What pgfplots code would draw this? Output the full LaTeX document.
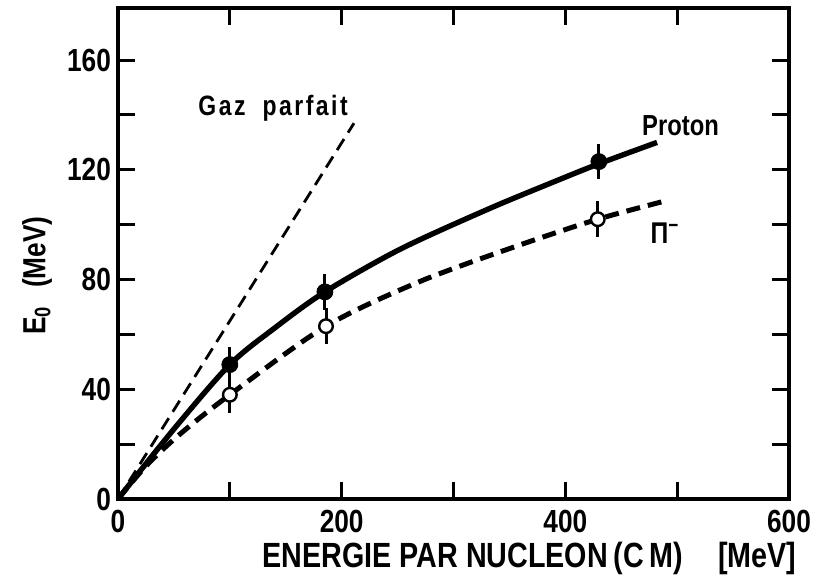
\documentclass[border=0pt]{standalone}
\usepackage{fontspec}
\setmainfont{Liberation Sans}[FakeStretch=0.82]
\newfontfamily\lblfont{Liberation Sans}[FakeStretch=0.82, LetterSpace=9]
\usepackage{pgfplots}
\pgfplotsset{compat=1.18}
\begin{document}
\begin{tikzpicture}
\begin{axis}[
  at={(0,0)}, anchor=south west,
  scale only axis, width=335.5pt, height=245.5pt,
  xmin=0, xmax=600, ymin=0, ymax=179,
  xtick={0,100,...,600}, xticklabels={0,,200,,400,,600},
  ytick={0,20,...,160}, yticklabels={0,,40,,80,,120,,160},
  tick align=inside, major tick length=8.5pt,
  axis line style={line width=2pt},
  every tick/.style={black, line width=1.5pt},
  /pgf/number format/assume math mode=true,
  tick label style={font=\fontsize{16}{16}\selectfont\bfseries},
  xticklabel style={yshift=-2pt},
  clip=false,
]
% ideal gas
\addplot[black, line width=1.4pt, dash pattern=on 6.5pt off 3.8pt] coordinates {(0,0) (211,137)};
% proton curve
\addplot[black, line width=2.7pt, smooth, tension=0.5] coordinates {
(0,0) (50,25.5) (100,49) (140,62.3) (185,75.5) (252,91) (330,105.5) (389,115.5) (430,122.2) (482,130)};
% pion curve
\addplot[black, line width=2.5pt, smooth, tension=0.5, dash pattern=on 7pt off 4pt] coordinates {
(0,0) (25,12) (55,23.5) (100,38) (186,63) (270,79.3) (360,92.7) (429,102) (487,108.4)};
% proton points
\addplot[only marks, mark=*, mark size=4pt, mark options={fill=black, draw=black},
  error bars/.cd, y dir=both, y explicit, error mark=none,
  error bar style={line width=1.5pt, black}] coordinates {
(100,49) +- (0,6.5)
(185,75.5) +- (0,6.5)
(430,123) +- (0,6.5)};
% pion points
\addplot[only marks, mark=*, mark size=3.4pt, mark options={fill=white, draw=black, line width=1.2pt},
  error bars/.cd, y dir=both, y explicit, error mark=none,
  error bar style={line width=1.5pt, black}] coordinates {
(100,38) +- (0,6.5)
(186,63) +- (0,6.5)
(429,102) +- (0,6.5)};
\node[anchor=base west, font=\lblfont\fontsize{14}{14}\selectfont\bfseries, inner sep=0pt] at (axis cs:71.6,139.9) {Gaz\hspace{4pt} parfait};
\node[anchor=base west, font=\fontsize{14.5}{14}\selectfont\bfseries, inner sep=0pt] at (axis cs:468.4,132.6) {Proton};
\node[anchor=base west, font=\fontsize{15}{15}\selectfont\bfseries, inner sep=0pt] at (axis cs:476,93.3) {Π\textsuperscript{−}};
\node[anchor=base west, font=\fontsize{17.5}{18}\selectfont\bfseries, inner sep=0pt] at (axis cs:128.8,-24.8) {ENERGIE PAR NUCLEON\,(C\,M)\quad[MeV]};
\node[rotate=90, anchor=center, font=\fontsize{16}{16}\selectfont\bfseries, inner sep=0pt] at (rel axis cs:-0.1207,0.455) {E\textsubscript{0}\hspace{9pt}(MeV)};
\end{axis}
\pgfresetboundingbox
\path (-59pt,-38.5pt) rectangle (348.5pt,249.5pt);
\end{tikzpicture}
\end{document}
